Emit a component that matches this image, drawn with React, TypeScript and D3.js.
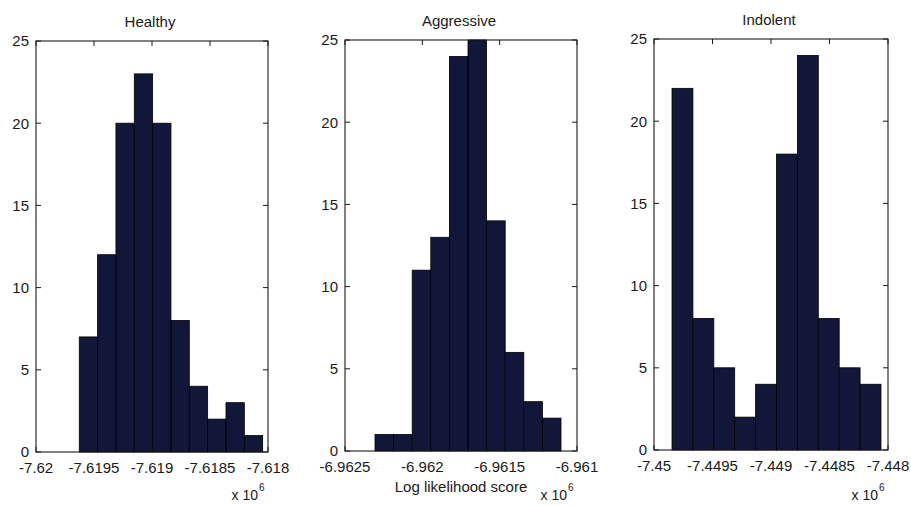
import React from 'react';
import * as d3 from 'd3';

// Histogram counts per group (10 bins each)
const panelTitles = ['Healthy', 'Aggressive', 'Indolent'];
const healthyCounts = [7, 12, 20, 23, 20, 8, 4, 2, 3, 1];
const aggressiveCounts = [1, 1, 11, 13, 24, 25, 14, 6, 3, 2];
const indolentCounts = [22, 8, 5, 2, 4, 18, 24, 8, 5, 4];

// Min / max log likelihood covered by the bins (units of 10^6)
const healthyRange = [-7.619627, -7.618046];
const aggressiveRange = [-6.962306, -6.9611035];
const indolentRange = [-7.449846, -7.44806];

// Axis domains and tick values (units of 10^6)
const healthyDomain = [-7.62, -7.618];
const aggressiveDomain = [-6.9625, -6.961];
const indolentDomain = [-7.45, -7.448];
const healthyTicks = [-7.62, -7.6195, -7.619, -7.6185, -7.618];
const aggressiveTicks = [-6.9625, -6.962, -6.9615, -6.961];
const indolentTicks = [-7.45, -7.4495, -7.449, -7.4485, -7.448];
const countTicks = [0, 5, 10, 15, 20, 25];
const countMax = 25;

const xLabel = 'Log likelihood score';

const panels = [
  { title: panelTitles[0], counts: healthyCounts, range: healthyRange, domain: healthyDomain, ticks: healthyTicks, xlabel: '' },
  { title: panelTitles[1], counts: aggressiveCounts, range: aggressiveRange, domain: aggressiveDomain, ticks: aggressiveTicks, xlabel: xLabel },
  { title: panelTitles[2], counts: indolentCounts, range: indolentRange, domain: indolentDomain, ticks: indolentTicks, xlabel: '' },
];

// Axes boxes
const frames = [
  { left: 36, right: 268, top: 41, bottom: 452 },
  { left: 345, right: 577, top: 40, bottom: 451 },
  { left: 654, right: 888, top: 39, bottom: 450 },
];

const FONT = '"Liberation Sans", Arial, Helvetica, sans-serif';
const BAR_FILL = '#121739';
const INK = '#1a1a1a';
const TICK = 5;

function Panel({ p, f }: { p: typeof panels[number]; f: typeof frames[number] }) {
  const x = d3.scaleLinear().domain(p.domain).range([f.left, f.right]);
  const y = d3.scaleLinear().domain([0, countMax]).range([f.bottom, f.top]);
  const n = p.counts.length;
  const binW = (p.range[1] - p.range[0]) / n;
  const bins = p.counts.map((c, i) => ({
    x0: p.range[0] + i * binW,
    x1: p.range[0] + (i + 1) * binW,
    c,
  }));
  const cx = (f.left + f.right) / 2;
  return (
    <g>
      {bins.map((b, i) => (
        <rect
          key={i}
          x={x(b.x0)}
          y={y(b.c)}
          width={x(b.x1) - x(b.x0)}
          height={y(0) - y(b.c)}
          fill={BAR_FILL}
          stroke="#000"
          strokeWidth={0.8}
        />
      ))}
      <rect
        x={f.left}
        y={f.top}
        width={f.right - f.left}
        height={f.bottom - f.top}
        fill="none"
        stroke={INK}
        strokeWidth={1.1}
      />
      {p.ticks.map((t, i) => (
        <g key={'xt' + i}>
          <line x1={x(t)} x2={x(t)} y1={f.bottom} y2={f.bottom - TICK} stroke={INK} />
          <line x1={x(t)} x2={x(t)} y1={f.top} y2={f.top + TICK} stroke={INK} />
          <text
            x={x(t)}
            y={f.bottom + 21}
            textAnchor="middle"
            fontSize={15}
            fontFamily={FONT}
            fill={INK}
          >
            {String(t)}
          </text>
        </g>
      ))}
      {countTicks.map((t, i) => (
        <g key={'yt' + i}>
          <line x1={f.left} x2={f.left + TICK} y1={y(t)} y2={y(t)} stroke={INK} />
          <line x1={f.right} x2={f.right - TICK} y1={y(t)} y2={y(t)} stroke={INK} />
          <text
            x={f.left - 7}
            y={y(t)}
            dy="0.36em"
            textAnchor="end"
            fontSize={15}
            fontFamily={FONT}
            fill={INK}
          >
            {t}
          </text>
        </g>
      ))}
      <text x={cx - 2} y={f.top - 14} textAnchor="middle" fontSize={15} fontFamily={FONT} fill={INK}>
        {p.title}
      </text>
      <text x={f.right - 10} y={500} textAnchor="end" fontSize={14} fontFamily={FONT} fill={INK}>
        x 10
      </text>
      <text x={f.right - 9} y={491} fontSize={10} fontFamily={FONT} fill={INK}>
        6
      </text>
      {p.xlabel && (
        <text x={cx} y={492} textAnchor="middle" fontSize={15} fontFamily={FONT} fill={INK}>
          {p.xlabel}
        </text>
      )}
    </g>
  );
}

export default function App() {
  return (
    <svg
      width={911}
      height={506}
      viewBox="0 0 911 506"
      style={{ position: 'absolute', left: 0, top: 0, background: '#fff' }}
    >
      <rect x={0} y={0} width={911} height={506} fill="#fff" />
      {panels.map((p, i) => (
        <Panel key={i} p={p} f={frames[i]} />
      ))}
    </svg>
  );
}
